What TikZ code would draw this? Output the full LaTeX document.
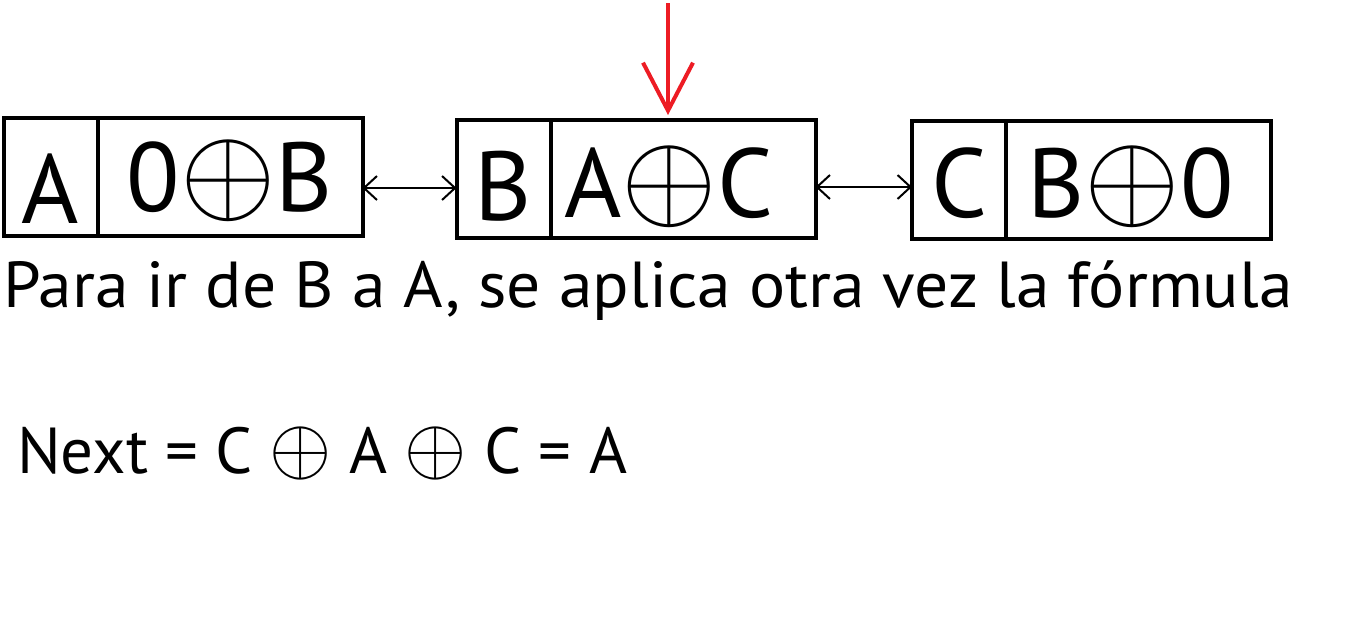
\documentclass[tikz,border=0pt]{standalone}
\usepackage{graphicx}
\usepackage{fontspec}
\setmainfont{PT Sans}
\usetikzlibrary{arrows.meta,positioning}
\definecolor{paintred}{RGB}{237,28,36}
\newcommand{\xo}[1]{\scalebox{#1}{\fontsize{10}{12}\selectfont$\oplus$}}

\begin{document}
\begin{tikzpicture}[x=1pt, y=-1pt,
    keycell/.style={draw, line width=4pt, outer sep=0pt, inner sep=0pt, minimum width=94pt, minimum height=118pt, font=\fontsize{98}{98}\selectfont, text depth=0pt},
    valcell/.style={keycell, minimum width=265pt, text height=69pt},
    link/.style={{Straight Barb[length=13pt,width=24pt]}-{Straight Barb[length=13pt,width=24pt]}, line width=2pt},
    pointer/.style={-{Straight Barb[length=48pt,width=50pt]}, line width=4pt, paintred},
    txt/.style={anchor=base west, inner sep=0pt, font=\fontsize{65}{65}\selectfont}
]
\useasboundingbox (0,0) rectangle (1364,616);
\node[keycell, text height=92pt] (ka) at (50.5,177) {A};
\node[valcell, right=0pt of ka] (va) {0\xo{12.3}B};
\node[keycell, text height=82pt] (kb) at (503.5,179) {B};
\node[valcell, right=0pt of kb, text height=76pt] (vb) {A\xo{12.3}C\kern28pt};
\node[keycell, text height=74pt] (kc) at (959,180) {C};
\node[valcell, right=0pt of kc, text height=74pt] (vc) {B\xo{12.3}0\kern16pt};
\draw[link] ([yshift=-11pt]va.east) -- ([yshift=-11pt]va.east -| kb.west);
\draw[link] ([yshift=-8pt]vb.east) -- ([yshift=-8pt]vb.east -| kc.west);
\coordinate (pin) at (668,3);
\draw[pointer, shorten >=5pt] (pin) -- (pin |- vb.north);
\node[txt] (note) at (3,307) {\addfontfeatures{FakeStretch=1.04}Para ir de B a A, se aplica otra vez la fórmula};
\node[txt] (rule) at (17,473) {Next = C \xo{8} A \xo{8} C = A};
\end{tikzpicture}
\end{document}
